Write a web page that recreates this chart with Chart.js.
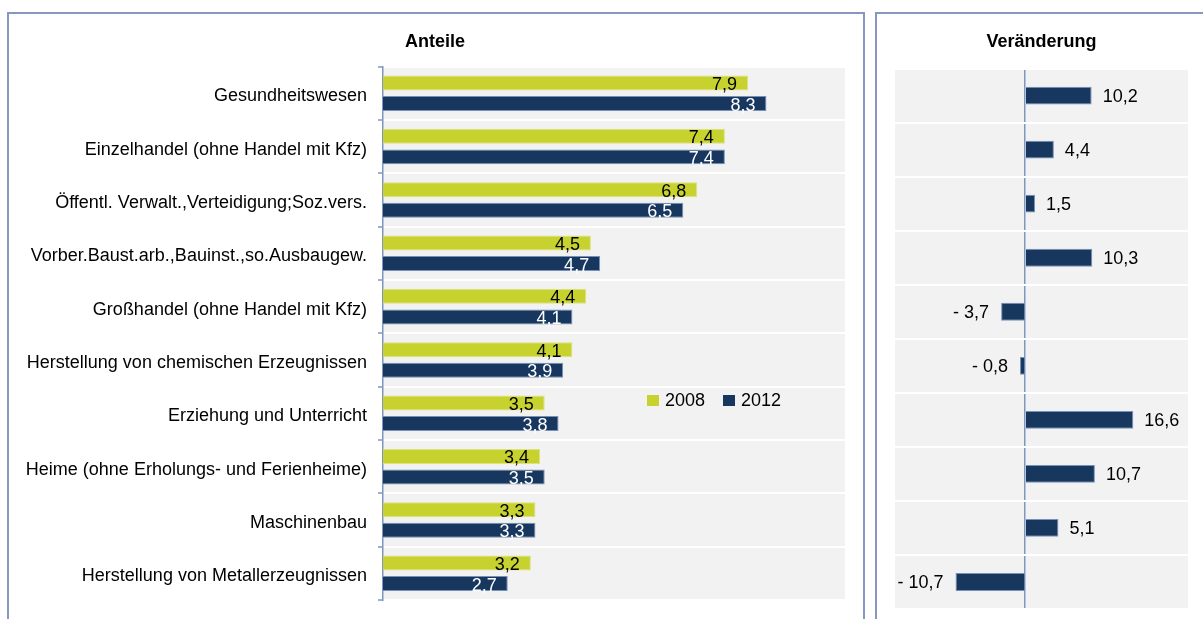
<!DOCTYPE html>
<html>
<head>
<meta charset="utf-8">
<script src="https://cdn.jsdelivr.net/npm/chart.js@4/dist/chart.umd.min.js"></script>
<style>
  html, body { margin: 0; padding: 0; background: #fff; }
  body { width: 1203px; height: 619px; position: relative; overflow: hidden;
         font-family: "Liberation Sans", Arial, sans-serif; }
  .panel { position: absolute; box-sizing: border-box; border: 2px solid #8598c2; border-bottom: none; }
  canvas { position: absolute; top: 0; }
  #legend { position: absolute; left: 647px; top: 390px; font-size: 18px; color: #000;
            display: flex; align-items: center; white-space: nowrap; }
  #legend span.sw { display: inline-block; width: 12px; height: 11px; margin-right: 6px; }
  #legend span.item { display: inline-flex; align-items: center; margin-right: 18px; }
</style>
</head>
<body>
<div class="panel" style="left:7px; top:12px; width:858px; height:640px;"></div>
<div class="panel" style="left:875px; top:12px; width:400px; height:640px;"></div>
<canvas id="shares" width="862" height="619" style="left:0"></canvas>
<canvas id="change" width="326" height="619" style="left:877px"></canvas>
<div id="legend"></div>

<script>
// ---- data ----
const categories = [
  'Gesundheitswesen',
  'Einzelhandel (ohne Handel mit Kfz)',
  'Öffentl. Verwalt.,Verteidigung;Soz.vers.',
  'Vorber.Baust.arb.,Bauinst.,so.Ausbaugew.',
  'Großhandel (ohne Handel mit Kfz)',
  'Herstellung von chemischen Erzeugnissen',
  'Erziehung und Unterricht',
  'Heime (ohne Erholungs- und Ferienheime)',
  'Maschinenbau',
  'Herstellung von Metallerzeugnissen'
];
const seriesNames = ['2008', '2012'];
const share2008 = [7.9, 7.4, 6.8, 4.5, 4.4, 4.1, 3.5, 3.4, 3.3, 3.2];
const share2012 = [8.3, 7.4, 6.5, 4.7, 4.1, 3.9, 3.8, 3.5, 3.3, 2.7];
const changeValues = [10.2, 4.4, 1.5, 10.3, -3.7, -0.8, 16.6, 10.7, 5.1, -10.7];

// ---- look ----
const YELLOW = '#c7d22f';
const NAVY = '#17375e';
const AXIS = '#7f97c0';
const PLOT_BG = '#f2f2f2';
const FONT = '"Liberation Sans", Arial, sans-serif';

const fmt = v => (v < 0 ? '- ' : '') + Math.abs(v).toFixed(1).replace('.', ',');

// gray plot background
const plotBg = {
  id: 'plotBg',
  beforeDraw(chart) {
    const a = chart.chartArea, ctx = chart.ctx;
    ctx.save();
    ctx.fillStyle = PLOT_BG;
    ctx.fillRect(a.left, a.top, a.right - a.left, a.bottom - a.top);
    ctx.restore();
  }
};

// data labels (inside end for shares, outside for change)
const valueLabels = {
  id: 'valueLabels',
  afterDatasetsDraw(chart, args, opts) {
    const ctx = chart.ctx;
    ctx.save();
    ctx.font = '18px ' + FONT;
    ctx.textBaseline = 'middle';
    chart.data.datasets.forEach((ds, di) => {
      chart.getDatasetMeta(di).data.forEach((bar, i) => {
        const v = ds.data[i];
        if (opts.mode === 'inside') {
          ctx.textAlign = 'right';
          ctx.fillStyle = ds.labelColor;
          ctx.fillText(fmt(v), bar.x - 11, bar.y + 2);
        } else {
          ctx.fillStyle = '#000';
          if (v >= 0) {
            ctx.textAlign = 'left';
            ctx.fillText(fmt(v), bar.x + 11, bar.y + 1);
          } else {
            ctx.textAlign = 'right';
            ctx.fillText(fmt(v), bar.x - 12, bar.y + 1);
          }
        }
      });
    });
    ctx.restore();
  }
};

const titleOpts = text => ({
  display: true,
  text,
  color: '#000',
  font: { family: FONT, size: 18, weight: 'bold', lineHeight: 1.2 },
  padding: { top: 31, bottom: 14 }
});

// ---- left chart: Anteile ----
new Chart(document.getElementById('shares'), {
  type: 'bar',
  data: {
    labels: categories,
    datasets: [
      { label: seriesNames[0], data: share2008, backgroundColor: YELLOW,
        borderColor: '#dbe37e', borderWidth: 1, labelColor: '#000',
        barPercentage: 0.73, categoryPercentage: 0.77 },
      { label: seriesNames[1], data: share2012, backgroundColor: NAVY,
        borderColor: '#7790bb', borderWidth: 1, labelColor: '#fff',
        barPercentage: 0.73, categoryPercentage: 0.77 }
    ]
  },
  options: {
    indexAxis: 'y',
    responsive: false,
    animation: false,
    layout: { padding: { left: 25, right: 17, top: 0, bottom: 19 } },
    plugins: {
      legend: { display: false },
      tooltip: { enabled: false },
      title: titleOpts('Anteile'),
      valueLabels: { mode: 'inside' }
    },
    scales: {
      x: { display: false, min: 0, max: 10 },
      y: {
        // fixed axis width, no extra room reserved for first/last label
        afterFit: s => { s.width = 358; s.paddingTop = 0; s.paddingBottom = 0; },
        ticks: { color: '#000', font: { family: FONT, size: 18 }, padding: 11,
                 labelOffset: 3, autoSkip: false },
        grid: { offset: true, color: '#fff', lineWidth: 2, tickColor: AXIS, tickWidth: 1.5, tickLength: 5 },
        border: { display: true, color: AXIS, width: 1.5 }
      }
    }
  },
  plugins: [plotBg, valueLabels]
});

// ---- right chart: Veränderung ----
new Chart(document.getElementById('change'), {
  type: 'bar',
  data: {
    labels: categories,
    datasets: [
      { label: 'Veränderung', data: changeValues, backgroundColor: NAVY,
        borderColor: '#7790bb', borderWidth: 1,
        barPercentage: 1, categoryPercentage: 0.33 }
    ]
  },
  options: {
    indexAxis: 'y',
    responsive: false,
    animation: false,
    layout: { padding: { left: 18, right: 15, top: 0, bottom: 10 } },
    plugins: {
      legend: { display: false },
      tooltip: { enabled: false },
      title: Object.assign(titleOpts('Veränderung'), { padding: { top: 31, bottom: 16 } }),
      valueLabels: { mode: 'outside' }
    },
    scales: {
      x: {
        min: -20, max: 25,
        afterFit: s => { s.height = 0; },
        ticks: { display: false, stepSize: 5 },
        grid: { drawTicks: false, lineWidth: 1.5,
                color: c => (c.tick && c.tick.value === 0 ? AXIS : 'transparent') },
        border: { display: false }
      },
      y: {
        afterFit: s => { s.width = 0; },
        ticks: { display: false },
        grid: { offset: true, drawTicks: false, color: '#fff', lineWidth: 2 },
        border: { display: false }
      }
    }
  },
  plugins: [plotBg, valueLabels]
});

// ---- legend (inside left plot) ----
const legendColors = [YELLOW, NAVY];
const legendEl = document.getElementById('legend');
seriesNames.forEach((name, i) => {
  const item = document.createElement('span');
  item.className = 'item';
  item.innerHTML = '<span class="sw" style="background:' + legendColors[i] + '"></span>' + name;
  legendEl.appendChild(item);
});
</script>
</body>
</html>
